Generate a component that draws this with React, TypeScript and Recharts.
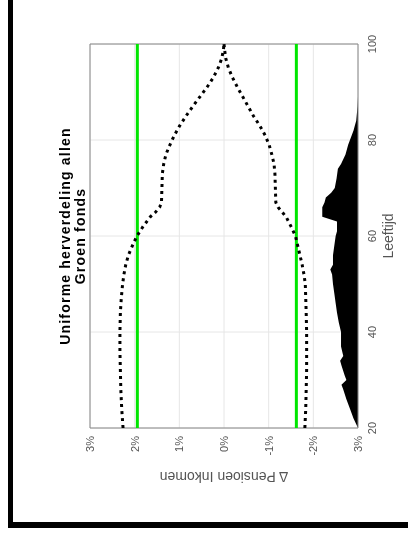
import {
  ComposedChart,
  Line,
  Area,
  XAxis,
  YAxis,
  CartesianGrid,
  ReferenceLine,
  ReferenceArea,
} from 'recharts';

const curveAges = [20, 24, 28, 32, 36, 40, 44, 47, 50, 52, 54, 56, 58, 60, 62, 64, 65, 66, 67, 70, 73, 75, 77, 79, 81, 83, 85, 87, 89, 91, 93, 95, 97, 99, 100];
const upperPct = [2.26, 2.29, 2.31, 2.32, 2.33, 2.33, 2.32, 2.3, 2.27, 2.24, 2.2, 2.14, 2.05, 1.95, 1.81, 1.65, 1.53, 1.44, 1.4, 1.39, 1.38, 1.35, 1.3, 1.21, 1.11, 0.99, 0.85, 0.7, 0.54, 0.38, 0.24, 0.13, 0.05, 0.01, 0];
const lowerPct = [-1.81, -1.83, -1.84, -1.85, -1.85, -1.85, -1.84, -1.83, -1.82, -1.79, -1.75, -1.7, -1.65, -1.6, -1.5, -1.39, -1.3, -1.21, -1.16, -1.15, -1.14, -1.12, -1.07, -1.01, -0.92, -0.8, -0.66, -0.54, -0.42, -0.3, -0.19, -0.1, -0.04, -0.01, 0];

// leeftijdsverdeling (zwarte vlak), breedte in %-punten vanaf de onderkant
const distAges = [20, 21, 22, 24, 26, 28, 29, 30, 31, 33, 34, 35, 37, 40, 42, 44, 46, 48, 50, 52, 53, 54, 56, 58, 60, 61, 63, 64, 66, 67, 68, 69, 70, 72, 74, 75, 77, 79, 80, 81, 82, 83, 84, 85, 87, 89];
const distPct = [0, 0.05, 0.1, 0.18, 0.26, 0.33, 0.37, 0.26, 0.3, 0.37, 0.4, 0.33, 0.38, 0.38, 0.43, 0.47, 0.5, 0.53, 0.56, 0.58, 0.62, 0.56, 0.56, 0.53, 0.5, 0.47, 0.47, 0.8, 0.8, 0.75, 0.72, 0.6, 0.52, 0.48, 0.45, 0.38, 0.28, 0.22, 0.18, 0.14, 0.1, 0.07, 0.04, 0.03, 0.01, 0];

const greenUpper = 1.94;
const greenLower = -1.62;

const ageTicks = [20, 40, 60, 80, 100];
const pctTicks = [3, 2, 1, 0, -1, -2, -3];
const titleLines = ['Uniforme herverdeling allen', 'Groen fonds'];

const FONT = '"Liberation Sans", Arial, sans-serif';

type Row = { age: number; upper?: number; lower?: number; dist?: number };

function buildRows(): Row[] {
  const rows = new Map<number, Row>();
  const get = (a: number) => {
    if (!rows.has(a)) rows.set(a, { age: a });
    return rows.get(a)!;
  };
  curveAges.forEach((a, i) => {
    const r = get(a);
    r.upper = upperPct[i];
    r.lower = lowerPct[i];
  });
  distAges.forEach((a, i) => {
    get(a).dist = -3 + distPct[i];
  });
  return [...rows.values()].sort((p, q) => p.age - q.age);
}

const data = buildRows();

const W = 540; // wordt de hoogte na het draaien
const H = 408;

export default function App() {
  return (
    <div>
      {/* zwarte kader links en onder */}
      <div
        style={{
          position: 'fixed',
          left: 8,
          top: -20,
          width: 430,
          height: 548,
          boxSizing: 'border-box',
          borderLeft: '5px solid #000',
          borderBottom: '6px solid #000',
        }}
      />
      <div
        style={{
          position: 'fixed',
          left: 0,
          top: 0,
          width: W,
          height: H,
          transformOrigin: '0 0',
          transform: `translate(0px, ${W}px) rotate(-90deg)`,
          fontFamily: FONT,
        }}>
        <div
          style={{
            position: 'absolute',
            left: 112,
            width: 384,
            top: 58,
            textAlign: 'center',
            fontWeight: 'bold',
            fontSize: 14,
            letterSpacing: 1.2,
            lineHeight: '15px',
            color: '#000',
            zIndex: 2,
          }}>
          {titleLines.map((t) => (
            <div key={t}>{t}</div>
          ))}
        </div>
        <ComposedChart
          width={W}
          height={H}
          data={data}
          margin={{ top: 90, right: 44, bottom: 0, left: 0 }}>
          <CartesianGrid stroke="#e6e6e6" strokeWidth={1} />
          <XAxis
            dataKey="age"
            type="number"
            domain={[20, 100]}
            ticks={ageTicks}
            height={50}
            tickLine={false}
            axisLine={false}
            tickMargin={4}
            tick={{ fill: '#555', fontSize: 11, fontFamily: FONT }}
            label={{
              value: 'Leeftijd',
              position: 'insideBottom',
              offset: 15,
              fill: '#555',
              fontSize: 14,
              fontFamily: FONT,
            }}
          />
          <YAxis
            type="number"
            domain={[-3, 3]}
            ticks={pctTicks}
            width={112}
            tickLine={false}
            axisLine={false}
            tickFormatter={(v: number) => (v === -3 ? '3%' : `${v}%`)}
            tick={{ fill: '#555', fontSize: 11, fontFamily: FONT }}
            label={{
              value: '\u0394 Pensioen Inkomen',
              angle: -90,
              position: 'insideLeft',
              offset: 63,
              fill: '#555',
              fontSize: 14,
              fontFamily: FONT,
              style: { textAnchor: 'middle' },
            }}
          />
          <Area
            dataKey="dist"
            type="linear"
            baseValue={-3}
            stroke="none"
            fill="#000"
            fillOpacity={1}
            connectNulls
            isAnimationActive={false}
          />
          <ReferenceLine y={greenUpper} stroke="#00e600" strokeWidth={3} />
          <ReferenceLine y={greenLower} stroke="#00e600" strokeWidth={3} />
          <Line
            dataKey="upper"
            type="linear"
            stroke="#000"
            strokeWidth={3}
            strokeDasharray="3 4"
            dot={false}
            connectNulls
            isAnimationActive={false}
          />
          <Line
            dataKey="lower"
            type="linear"
            stroke="#000"
            strokeWidth={3}
            strokeDasharray="3 4"
            dot={false}
            connectNulls
            isAnimationActive={false}
          />
          <ReferenceArea x1={20} x2={100} y1={-3} y2={3} fill="none" stroke="#888" strokeWidth={1} />
        </ComposedChart>
      </div>
    </div>
  );
}
